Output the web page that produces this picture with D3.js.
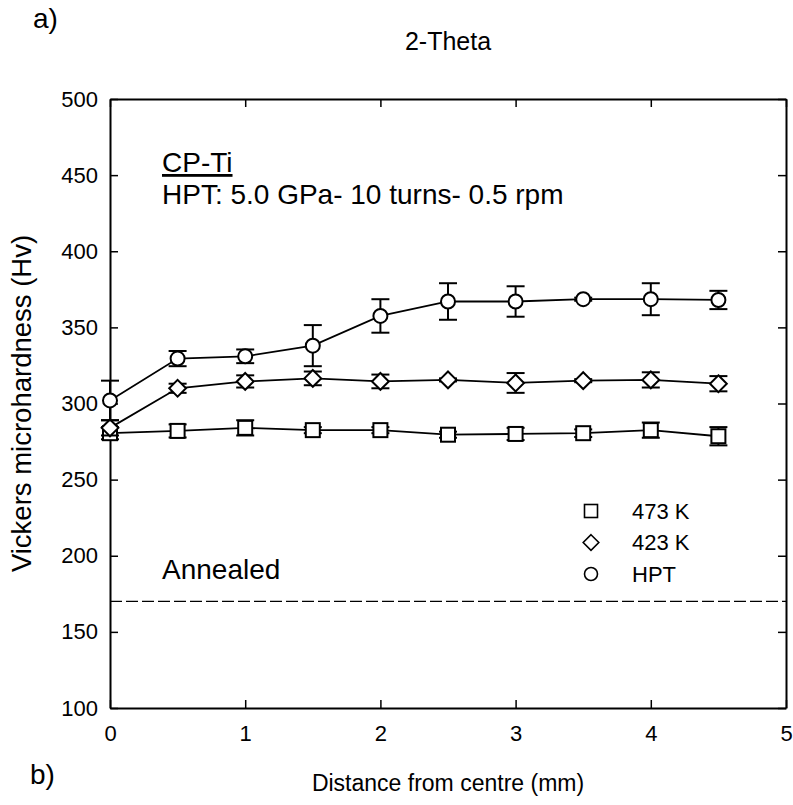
<!DOCTYPE html>
<html>
<head>
<meta charset="utf-8">
<script src="https://cdn.jsdelivr.net/npm/d3@7"></script>
<style>
  body { margin: 0; background: #fff; }
  text { font-family: "Liberation Sans", Arial, sans-serif; fill: #000; }
</style>
</head>
<body>
<div id="chart"></div>
<script>
// distances from centre (mm)
const distances = [0, 0.5, 1, 1.5, 2, 2.5, 3, 3.5, 4, 4.5];

// microhardness values (Hv) and error bars
const hpt = [302, 329.5, 331, 338, 357.5, 367, 367, 368.5, 368.5, 368];
const hptErr = [13, 5, 4.5, 13.5, 11, 12, 10, 1, 10.5, 6];
const k423 = [284, 310, 314.5, 316.5, 314.5, 315.5, 313.5, 315, 315.5, 313];
const k423Err = [5, 3, 4, 4.5, 4.5, 1, 6.5, 1, 5, 5];
const k473 = [280.5, 282, 284, 282.5, 282.5, 279.5, 280, 280.5, 282.5, 278.5];
const k473Err = [4, 4.3, 5, 2, 2, 2, 4, 2.5, 5, 6];

const annealed = 170;

const xTicks = [0, 1, 2, 3, 4, 5];
const yTicks = [100, 150, 200, 250, 300, 350, 400, 450, 500];

const width = 793;
const height = 805;
const margin = { top: 99, right: 7, bottom: 97, left: 110 };

const svg = d3.select('#chart')
    .append('svg')
    .attr('width', width)
    .attr('height', height);

const x = d3.scaleLinear().domain([0, 5]).range([margin.left, width - margin.right]);
const y = d3.scaleLinear().domain([100, 500]).range([height - margin.bottom, margin.top]);

// axes with inward ticks on all sides
svg.append('g')
    .attr('transform', `translate(0,${y(100)})`)
    .call(d3.axisBottom(x).tickValues(xTicks).tickFormat(d3.format('d'))
        .tickSizeInner(-8).tickSizeOuter(0).tickPadding(17))
    .call(g => g.selectAll('text').style('font-size', '22px').attr('dy', '0.71em'));

svg.append('g')
    .attr('transform', `translate(0,${y(500)})`)
    .call(d3.axisTop(x).tickValues(xTicks).tickSizeInner(-8).tickSizeOuter(0).tickFormat(''));

svg.append('g')
    .attr('transform', `translate(${x(0)},0)`)
    .call(d3.axisLeft(y).tickValues(yTicks).tickFormat(d3.format('d'))
        .tickSizeInner(-8).tickSizeOuter(0).tickPadding(12))
    .call(g => g.selectAll('text').style('font-size', '22px'));

svg.append('g')
    .attr('transform', `translate(${x(5)},0)`)
    .call(d3.axisRight(y).tickValues(yTicks).tickSizeInner(-8).tickSizeOuter(0).tickFormat(''));

svg.selectAll('.domain').attr('stroke', '#000').attr('stroke-width', 2);
svg.selectAll('.tick line').attr('stroke', '#000').attr('stroke-width', 1.5);

// annealed level
svg.append('line')
    .attr('x1', x(0))
    .attr('x2', x(5))
    .attr('y1', y(annealed))
    .attr('y2', y(annealed))
    .style('stroke', '#000')
    .style('stroke-width', 1.3)
    .style('stroke-dasharray', '12,4');

const series = [
    { name: '473 K', values: k473, err: k473Err, shape: 'square' },
    { name: '423 K', values: k423, err: k423Err, shape: 'diamond' },
    { name: 'HPT', values: hpt, err: hptErr, shape: 'circle' }
];

const line = d3.line()
    .x(d => x(d[0]))
    .y(d => y(d[1]));

function drawMarker(sel, shape, size) {
    if (shape === 'circle') {
        sel.append('circle').attr('r', size);
    } else if (shape === 'square') {
        sel.append('rect').attr('x', -size).attr('y', -size).attr('width', size * 2).attr('height', size * 2);
    } else {
        const s = size * 1.2;
        sel.append('path').attr('d', `M0,${-s}L${s},0L0,${s}L${-s},0Z`);
    }
}

series.forEach(s => {
    const pts = distances.map((d, i) => [d, s.values[i], s.err[i]]);

    svg.append('path')
        .datum(pts)
        .attr('d', line)
        .style('fill', 'none')
        .style('stroke', '#000')
        .style('stroke-width', 1.8);

    // error bars
    const eb = svg.append('g').selectAll('g')
        .data(pts)
        .enter()
        .append('g')
        .style('stroke', '#000')
        .style('stroke-width', 2);

    eb.append('line')
        .attr('x1', d => x(d[0])).attr('x2', d => x(d[0]))
        .attr('y1', d => y(d[1] - d[2])).attr('y2', d => y(d[1] + d[2]));
    eb.append('line')
        .attr('x1', d => x(d[0]) - 9).attr('x2', d => x(d[0]) + 9)
        .attr('y1', d => y(d[1] + d[2])).attr('y2', d => y(d[1] + d[2]));
    eb.append('line')
        .attr('x1', d => x(d[0]) - 9).attr('x2', d => x(d[0]) + 9)
        .attr('y1', d => y(d[1] - d[2])).attr('y2', d => y(d[1] - d[2]));

    const m = svg.append('g').selectAll('g')
        .data(pts)
        .enter()
        .append('g')
        .attr('transform', d => `translate(${x(d[0])},${y(d[1])})`)
        .style('fill', '#fff')
        .style('stroke', '#000')
        .style('stroke-width', 2);
    drawMarker(m, s.shape, 7);
});

// legend
const legend = svg.append('g').selectAll('g')
    .data(series)
    .enter()
    .append('g')
    .attr('transform', (d, i) => `translate(591,${511 + i * 31.5})`);

legend.each(function (d) {
    const g = d3.select(this).append('g')
        .style('fill', '#fff')
        .style('stroke', '#000')
        .style('stroke-width', 1.6);
    drawMarker(g, d.shape, 6.5);
});

legend.append('text')
    .attr('x', 41)
    .attr('dy', '0.35em')
    .style('font-size', '22px')
    .text(d => d.name);

// annotations
svg.append('text')
    .attr('x', 162)
    .attr('y', 172)
    .style('font-size', '28px')
    .style('text-decoration', 'underline')
    .text('CP-Ti');

svg.append('text')
    .attr('x', 162)
    .attr('y', 204)
    .style('font-size', '28px')
    .text('HPT: 5.0 GPa- 10 turns- 0.5 rpm');

svg.append('text')
    .attr('x', 162)
    .attr('y', 579)
    .style('font-size', '28px')
    .text('Annealed');

// titles and labels
svg.append('text')
    .attr('x', 33)
    .attr('y', 28)
    .style('font-size', '28px')
    .text('a)');

svg.append('text')
    .attr('x', 448)
    .attr('y', 50)
    .attr('text-anchor', 'middle')
    .style('font-size', '25px')
    .text('2-Theta');

svg.append('text')
    .attr('x', 30)
    .attr('y', 784)
    .style('font-size', '28px')
    .text('b)');

svg.append('text')
    .attr('x', 448)
    .attr('y', 791)
    .attr('text-anchor', 'middle')
    .style('font-size', '23px')
    .text('Distance from centre (mm)');

svg.append('text')
    .attr('transform', `translate(31,${(y(100) + y(500)) / 2}) rotate(-90)`)
    .attr('text-anchor', 'middle')
    .style('font-size', '27.5px')
    .text('Vickers microhardness (Hv)');
</script>
</body>
</html>
